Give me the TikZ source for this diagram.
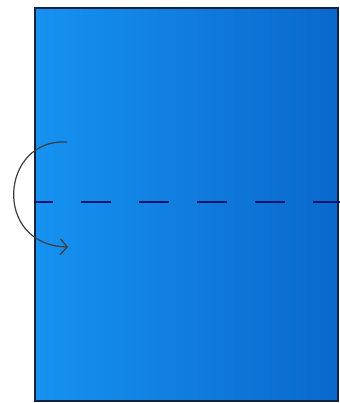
\documentclass[tikz,border=0pt]{standalone}
\usepackage{tikz}
\usetikzlibrary{arrows.meta, positioning}

\definecolor{paperleft}{RGB}{22,146,240}
\definecolor{paperright}{RGB}{10,104,204}
\definecolor{paperedge}{RGB}{18,34,66}
\definecolor{foldline}{RGB}{10,20,110}
\definecolor{turnarrow}{RGB}{60,60,60}

\begin{document}
\begin{tikzpicture}[
    x=1bp, y=-1bp,
    sheet/.style={draw=paperedge, line width=1.2bp, left color=paperleft, right color=paperright},
    valley/.style={draw=foldline, line width=1.6bp, dash pattern=on 30bp off 28bp, dash phase=12bp},
    flip/.style={draw=turnarrow, line width=1.2bp, -{Straight Barb[length=7bp, width=16bp, line width=1.2bp]}}
]
    \useasboundingbox (0,0) rectangle (340,403);

    % ================= PAPER =================
    \path[sheet] (35,8) rectangle (338,401);
    \coordinate (fold west) at (35,202);
    \coordinate (fold east) at (340,202);

    % ================= FOLD LINE =================
    \draw[valley] (fold west) -- (fold east);

    % ================= TURN OVER ARROW =================
    \coordinate (turn start) at (67,142);
    \coordinate (turn end) at (68,247);
    \draw[flip] (turn start) .. controls (0,138) and (-8,245) .. (turn end);

\end{tikzpicture}
\end{document}
